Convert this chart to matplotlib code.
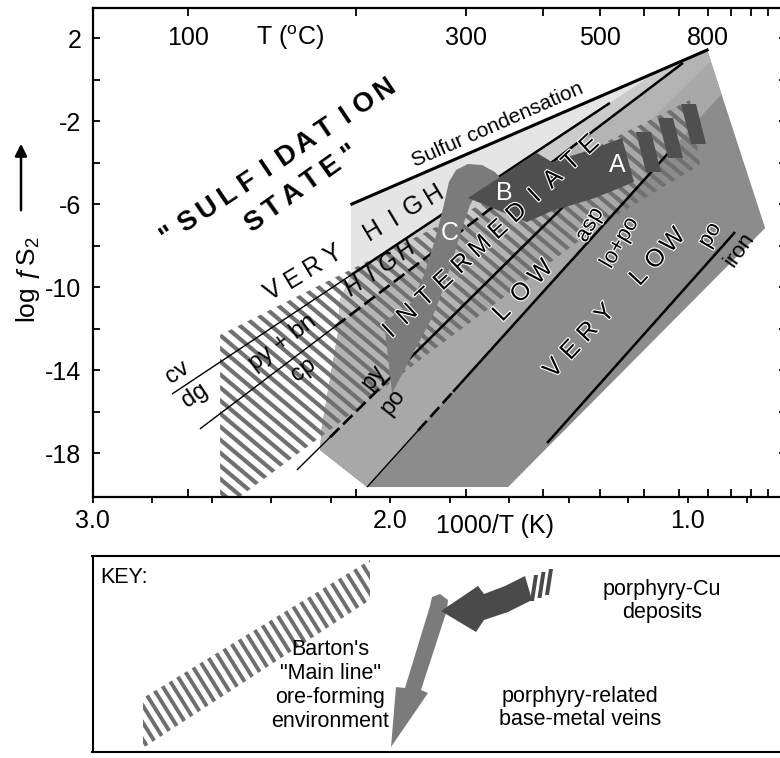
import numpy as np
import matplotlib
matplotlib.use('Agg')
import matplotlib.pyplot as plt
from matplotlib.patches import Polygon
from matplotlib.collections import LineCollection
from matplotlib.transforms import IdentityTransform
import matplotlib.patheffects as pe

plt.rcParams['font.family'] = ['Liberation Sans', 'DejaVu Sans']
plt.rcParams['mathtext.fontset'] = 'custom'
plt.rcParams['mathtext.rm'] = 'Liberation Sans'
plt.rcParams['mathtext.it'] = 'Liberation Sans:italic'
plt.rcParams['mathtext.default'] = 'regular'

# ---------------- data: x = 1000/T (K), y = log fS2 ----------------
T_label_vals = [100, 300, 500, 800]
T_tick_vals = [100, 200, 300, 400, 500, 600, 700, 800, 900, 1000, 1100]
x_major = [3.0, 2.0, 1.0]
x_major_labels = ['3.0', '2.0', '1.0']
x_minor = [2.8, 2.6, 2.4, 2.2, 1.8, 1.6, 1.4, 1.2, 0.8]
y_major = [2, -2, -6, -10, -14, -18]
y_major_labels = ['2', '-2', '-6', '-10', '-14', '-18']
y_minor = [0, -4, -8, -12, -16]

# reaction boundaries (two end points each)
sulfur_line = [(2.128, -6.00), (0.934, 1.42)]
line_cv_dg = [(2.733, -15.16), (1.261, -1.13)]
line_bn_cp = [(2.639, -16.84), (1.015, 0.80)]
line_py_po = [(2.313, -18.82), (1.412, -6.05)]
line_asp_lopo = [(2.077, -19.64), (1.049, -3.30)]
line_po_iron = [(1.472, -17.52), (0.840, -7.35)]

# shaded field of sulfidation states
fan_x = [2.128, 0.934, 0.739, 1.603, 2.077, 2.235, 2.229, 2.175, 2.168, 2.128]
fan_y = [-6.00, 1.42, -7.16, -19.64, -19.64, -17.86, -16.75, -12.22, -10.63, -9.37]

# Barton's main line band
band_x = [2.571, 2.571, 0.992, 0.958, 1.294, 1.899, 2.202, 2.504]
band_y = [-20.1, -12.31, -0.99, -4.12, -7.01, -13.52, -16.89, -20.1]

# porphyry-Cu arrow (A -> B)
arrowA_x = [1.220, 1.328, 1.456, 1.506, 1.738, 1.540, 1.456, 1.311, 1.180]
arrowA_y = [-2.82, -3.40, -3.98, -3.54, -5.71, -6.87, -6.34, -5.71, -4.94]
tailA = [
    [(1.1395, -4.458), (1.0891, -4.458), (1.1227, -2.530), (1.1731, -2.530)],
    [(1.0655, -3.783), (1.0151, -3.783), (1.0487, -1.855), (1.0991, -1.855)],
    [(0.9882, -3.108), (0.9378, -3.108), (0.9714, -1.181), (1.0218, -1.181)],
]
# porphyry-related veins arrow (B -> C)
arrowC_x = [1.613, 1.647, 1.691, 1.738, 1.778, 1.802, 1.819, 1.849, 1.886, 1.926,
            2.020, 1.993, 1.859, 1.832, 1.792, 1.758, 1.731, 1.708, 1.681, 1.654, 1.630]
arrowC_y = [-4.99, -4.46, -4.12, -4.07, -4.36, -4.94, -6.05, -7.74, -9.42, -10.72,
            -11.69, -15.11, -11.49, -10.53, -8.80, -7.16, -6.05, -5.47, -5.33, -5.71, -6.05]

# line segment styles along each boundary (x-ranges)
segments = [
    (line_cv_dg, 2.733, 2.128, 'thin'), (line_cv_dg, 2.128, 1.261, 'thick'),
    (line_bn_cp, 2.639, 2.185, 'thin'), (line_bn_cp, 2.185, 1.597, 'dash'),
    (line_bn_cp, 1.597, 1.015, 'thick'),
    (line_py_po, 2.313, 2.202, 'thin'), (line_py_po, 2.202, 2.000, 'dash'),
    (line_py_po, 2.000, 1.412, 'thick'),
    (line_asp_lopo, 2.077, 1.906, 'thin'), (line_asp_lopo, 1.906, 1.788, 'dash'),
    (line_asp_lopo, 1.788, 1.049, 'thick'),
    (line_po_iron, 1.472, 0.840, 'thick'),
]

zone_fills = [  # (boundary, colour) filled above boundary, inside fan
    (line_asp_lopo, '#a8a8a8'),
    (line_py_po, '#b4b4b4'),
    (line_bn_cp, '#cbcbcb'),
    (line_cv_dg, '#e5e5e5'),
]

# letter-spaced zone labels: text, x, y, angle, step(px), size, weight, style, halo
spaced_labels = [
    ('"SULFIDATION', 2.387, -3.88, 34.0, 23.7, 20, 'bold', 'normal', False),
    ('STATE"', 2.301, -5.08, 35.5, 23.6, 20, 'bold', 'normal', False),
    ('VERY HIGH', 2.126, -7.76, 31.0, 23.4, 18, 'normal', 'normal', False),
    ('HIGH', 2.039, -9.04, 35.0, 21.0, 17, 'normal', 'italic', False),
    ('INTERMEDIATE', 1.671, -7.57, 43.0, 24.9, 18, 'normal', 'normal', True),
    ('LOW', 1.563, -10.19, 46.0, 28.0, 18, 'normal', 'normal', True),
    ('VERY LOW', 1.254, -10.77, 47.0, 25.0, 18, 'normal', 'normal', True),
]
# other labels: text, x, y, rotation, size, colour, halo
labels = [
    ('Sulfur condensation', 1.640, -2.19, 23.7, 15, 'black', False),
    ('cv', 2.713, -14.10, 34, 17, 'black', False),
    ('dg', 2.655, -15.21, 34, 17, 'black', False),
    ('py + bn', 2.360, -12.70, 37, 17, 'black', False),
    ('cp', 2.292, -14.00, 37, 17, 'black', False),
    ('py', 2.057, -14.34, 52, 17, 'black', False),
    ('po', 1.990, -15.54, 52, 17, 'black', False),
    ('asp', 1.328, -7.01, 60, 16, 'black', True),
    ('lo+po', 1.227, -7.88, 60, 16, 'black', True),
    ('po', 0.924, -7.51, 60, 16, 'black', True),
    ('iron', 0.824, -8.22, 55, 16, 'black', False),
    ('A', 1.237, -4.12, 0, 18, 'white', False),
    ('B', 1.617, -5.47, 0, 18, 'white', False),
    ('C', 1.798, -7.40, 0, 18, 'white', False),
]

# key (legend) geometry in key-panel pixel units
key_band = [(143, 698), (370, 560), (370, 600), (143, 748)]
key_dark = [(525, 576), (505, 586), (484, 594), (478, 586), (441, 611),
            (476, 632), (484, 620), (508, 612), (532, 600)]
key_bar_x = [535, 542.5, 550]
key_bar_y = [588, 585, 582]
key_gray = [(432, 597), (440, 594), (448, 600), (447, 610), (421, 690), (428, 693),
            (391, 747), (396, 687), (405, 688), (430, 606)]
key_texts = [
    ('KEY:', 100, 578, 'left'),
    ("Barton's", 330, 650, 'center'), ('"Main line"', 330, 674, 'center'),
    ('ore-forming', 330, 698, 'center'), ('environment', 330, 722, 'center'),
    ('porphyry-Cu', 662, 590, 'center'), ('deposits', 662, 613, 'center'),
    ('porphyry-related', 580, 697, 'center'), ('base-metal veins', 580, 720, 'center'),
]

# ---------------- figure ----------------
W, H = 780, 758
fig = plt.figure(figsize=(W / 100, H / 100), dpi=100)
fig.patch.set_facecolor('white')

xl = (3.0, 0.669)
yl = (-20.12, 3.47)
ax = fig.add_axes([92.5 / W, (H - 497) / H, (xl[0] - xl[1]) * 297.5 / W, 489.5 / H])
ax.set_xlim(*xl)
ax.set_ylim(*yl)
for s in ax.spines.values():
    s.set_linewidth(1.6)

ax.set_xticks(x_major)
ax.set_xticklabels(x_major_labels)
ax.set_xticks(x_minor, minor=True)
ax.set_yticks(y_major)
ax.set_yticklabels(y_major_labels)
ax.set_yticks(y_minor, minor=True)
ax.tick_params(axis='x', which='both', direction='out', length=4.5, width=1.3,
               labelsize=18, pad=4, top=False)
ax.tick_params(axis='y', which='both', direction='in', length=5, width=1.3,
               labelsize=18, pad=8, right=True)

ax2 = ax.twiny()
ax2.set_xlim(*xl)
Tpos = [1000.0 / (t + 273.15) for t in T_tick_vals]
ax2.set_xticks(Tpos)
ax2.set_xticklabels([])
ax2.xaxis.set_ticks_position('both')
ax2.tick_params(axis='x', which='major', direction='in', length=5.5, width=1.3,
                labeltop=False, labelbottom=False)
for s in ax2.spines.values():
    s.set_visible(False)

for t in T_label_vals:
    ax.text(1000.0 / (t + 273.15), 2.0, str(t), ha='center', va='center', fontsize=18)
ax.text(2.336, 2.0, 'T ($^o$C)', ha='center', va='center', fontsize=18)
ax.text(1.647, -0.059, '1000/T (K)', transform=ax.get_xaxis_transform(),
        ha='center', va='center', fontsize=18)

fig.text(28 / W, 1 - 280 / H, 'log ƒS$_2$', rotation=90, ha='center', va='center', fontsize=19)
fig.add_artist(matplotlib.patches.FancyArrowPatch((21, H - 213), (21, H - 141),
               transform=IdentityTransform(), arrowstyle='-|>', mutation_scale=18,
               lw=1.8, color='black'))

# ---- fills ----
fan = Polygon(np.column_stack([fan_x, fan_y]), closed=True, facecolor='#8c8c8c',
              edgecolor='none', zorder=1)
ax.add_patch(fan)
for line, col in zone_fills:
    (x0, y0), (x1, y1) = line
    m = (y1 - y0) / (x1 - x0)
    xa, xb = 3.6, 0.2
    poly = [(xa, y0 + m * (xa - x0)), (xb, y0 + m * (xb - x0)), (xb, 30), (xa, 30)]
    p = Polygon(poly, closed=True, facecolor=col, edgecolor='none', zorder=1.1)
    ax.add_patch(p)
    p.set_clip_path(fan)


def stripes(axis, poly, angle, spacing, lw, color, zorder):
    clip = Polygon(poly, closed=True, transform=axis.transData, facecolor='none',
                   edgecolor='none')
    axis.add_patch(clip)
    disp = axis.transData.transform(np.asarray(poly, float))
    lo, hi = disp.min(0), disp.max(0)
    c = (lo + hi) / 2
    R = np.hypot(*(hi - lo))
    a = np.deg2rad(angle)
    d = np.array([np.cos(a), np.sin(a)])
    n = np.array([-d[1], d[0]])
    segs = [[c + n * k - d * R, c + n * k + d * R] for k in np.arange(-R, R, spacing)]
    lc = LineCollection(segs, colors=color, linewidths=lw, transform=IdentityTransform(),
                        zorder=zorder, capstyle='butt')
    lc.set_clip_path(clip)
    axis.add_collection(lc)


stripes(ax, np.column_stack([band_x, band_y]), -40, 10.0, 3.0, '#707070', 2)

# ---- lines ----
styles = {'thin': dict(lw=1.0, color='black'),
          'thick': dict(lw=1.8, color='black'),
          'dash': dict(lw=1.9, color='black', dashes=(5, 2))}
for line, xa, xb, st in segments:
    (x0, y0), (x1, y1) = line
    xs = np.array([xa, xb])
    ys = y0 + (y1 - y0) * (xs - x0) / (x1 - x0)
    ax.plot(xs, ys, zorder=3, solid_capstyle='butt', **styles[st])
ax.plot([p[0] for p in sulfur_line], [p[1] for p in sulfur_line], color='black', lw=2.2, zorder=3)

# ---- arrows ----
ax.add_patch(Polygon(np.column_stack([arrowC_x, arrowC_y]), closed=True,
                     facecolor='#7b7b7b', edgecolor='none', zorder=4))
ax.add_patch(Polygon(np.column_stack([arrowA_x, arrowA_y]), closed=True,
                     facecolor='#4f4f4f', edgecolor='none', zorder=4.1))
for box in tailA:
    ax.add_patch(Polygon(box, closed=True, facecolor='#4f4f4f', edgecolor='none', zorder=4.1))

# ---- labels ----
halo = [pe.withStroke(linewidth=1.6, foreground='white')]
inv = ax.transData.inverted()
for s, xc, yc, ang, step, size, wt, sty, hl in spaced_labels:
    c = ax.transData.transform((xc, yc))
    a = np.deg2rad(ang)
    u = np.array([np.cos(a), np.sin(a)])
    v = np.array([-np.sin(a), np.cos(a)])
    cap = 0.72 * size * 100 / 72
    n = len(s)
    for i, ch in enumerate(s):
        if ch == ' ':
            continue
        pnt = c + u * (i - (n - 1) / 2) * step - v * cap / 2
        xd, yd = inv.transform(pnt)
        ax.text(xd, yd, ch, rotation=ang, rotation_mode='anchor', ha='center',
                va='baseline', fontsize=size, fontweight=wt, fontstyle=sty, zorder=5,
                path_effects=halo if hl else None)
for s, x, y, rot, size, col, hl in labels:
    ax.text(x, y, s, rotation=rot, rotation_mode='anchor', ha='center', va='center',
            fontsize=size, color=col, zorder=5, path_effects=halo if hl else None)

# ---------------- key panel ----------------
kx0, ky0, ky1 = 92.5, 556, 752
kax = fig.add_axes([kx0 / W, (H - ky1) / H, (795 - kx0) / W, (ky1 - ky0) / H])
kax.set_xlim(kx0, 795)
kax.set_ylim(ky1, ky0)
kax.set_xticks([])
kax.set_yticks([])
for s in kax.spines.values():
    s.set_linewidth(1.5)

stripes(kax, key_band, -58, 9.0, 2.8, '#6e6e6e', 2)
kax.add_patch(Polygon(key_gray, closed=True, facecolor='#7b7b7b', edgecolor='none', zorder=3))
kax.add_patch(Polygon(key_dark, closed=True, facecolor='#4a4a4a', edgecolor='none', zorder=3.1))
for bx, by in zip(key_bar_x, key_bar_y):
    kax.add_patch(Polygon([(bx - 5, by + 13), (bx - 1, by + 13), (bx + 3, by - 13), (bx - 1, by - 13)],
                          closed=True, facecolor='#4a4a4a', edgecolor='none', zorder=3.1))
for s, x, y, ha in key_texts:
    kax.text(x, y, s, ha=ha, va='center', fontsize=15.5)

fig.savefig('out.png', dpi=100, facecolor='white')
